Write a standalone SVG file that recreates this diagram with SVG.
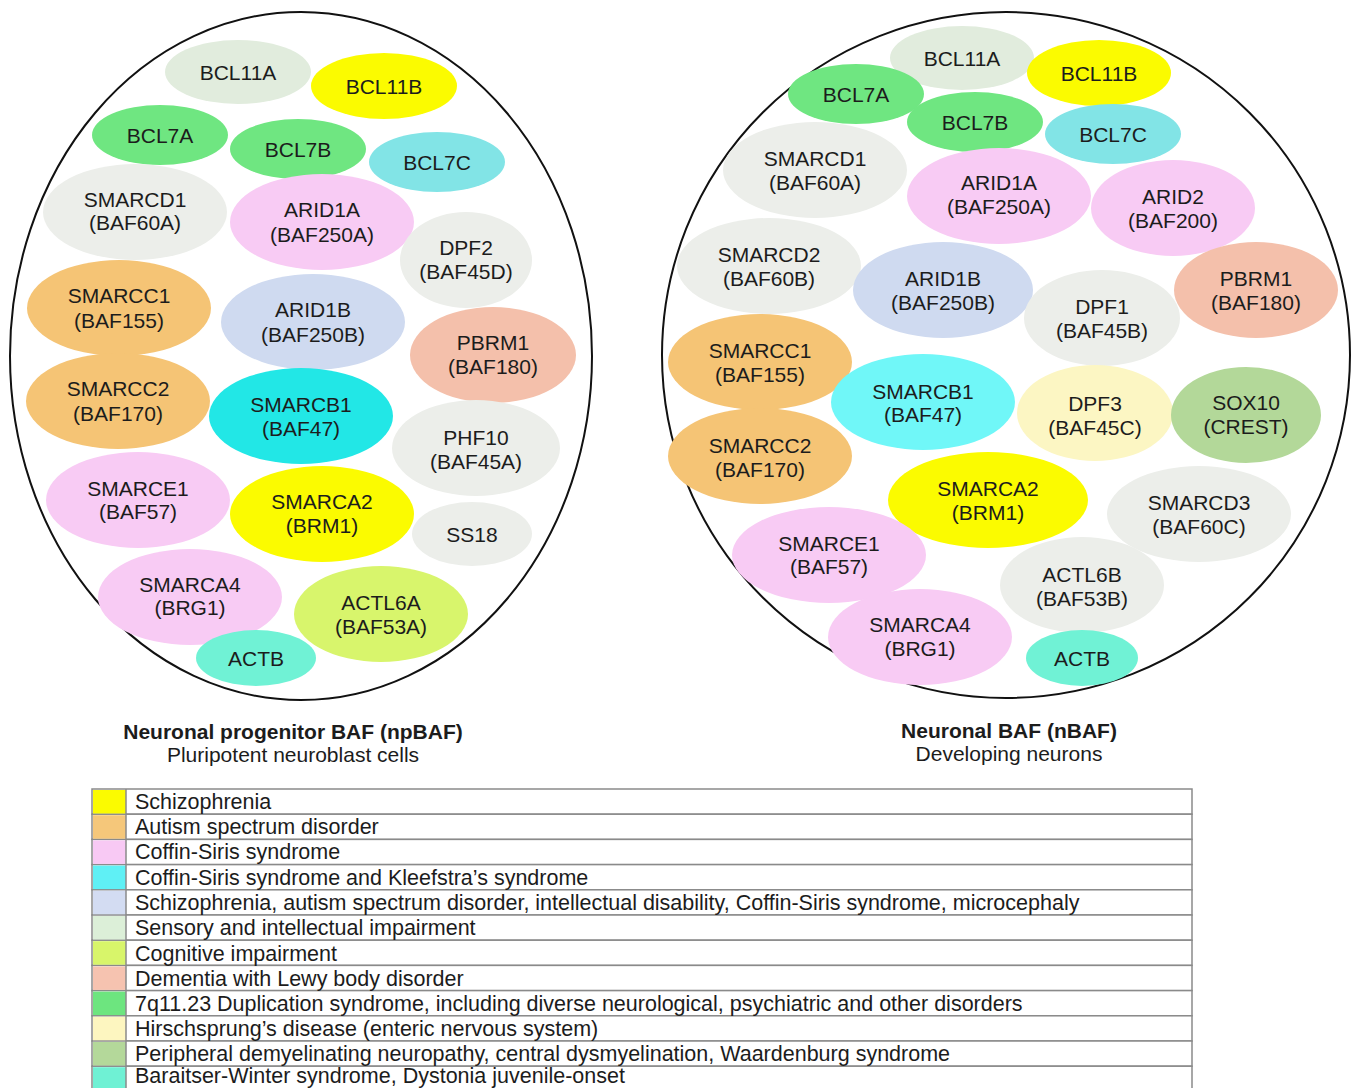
<svg xmlns="http://www.w3.org/2000/svg" width="1354" height="1088" viewBox="0 0 1354 1088">
<style>
text{font-family:"Liberation Sans",Arial,sans-serif;fill:#1c1c1c}
.n text{font-size:21px;text-anchor:middle}
.outer{fill:none;stroke:#111;stroke-width:2}
.gray{fill:#eceeea}.mint{fill:#e1ecdd}.yel{fill:#fbfb00}.grn{fill:#6fe681}.cyl{fill:#82e4e6}
.pink{fill:#f8cbf4}.lav{fill:#cfdaf0}.org{fill:#f5c475}.sal{fill:#f4c0ab}.cyan{fill:#22e7e6}.cyan2{fill:#70f7f8}
.yg{fill:#d8f56c}.aqua{fill:#70f2d5}.pyel{fill:#fcf6c3}.sage{fill:#b3d899}
.cap{font-size:21px;text-anchor:middle}
.b{font-weight:bold}
.lg text{font-size:21.5px}
.row{fill:#fff;stroke:#8a8a8a;stroke-width:1.5}
</style>

<g id="connectors"></g>

<ellipse class="outer" cx="301" cy="356" rx="291" ry="344"/>
<ellipse class="outer" cx="1006" cy="355" rx="344" ry="343"/>

<!-- Left: npBAF -->
<g id="np-BCL11A" class="n"><ellipse class="mint" cx="238" cy="72" rx="73" ry="32"/><text x="238" y="80">BCL11A</text></g>
<g id="np-BCL11B" class="n"><ellipse class="yel" cx="384" cy="86" rx="73" ry="33"/><text x="384" y="94">BCL11B</text></g>
<g id="np-BCL7A" class="n"><ellipse class="grn" cx="160" cy="135" rx="68" ry="30"/><text x="160" y="143">BCL7A</text></g>
<g id="np-BCL7B" class="n"><ellipse class="grn" cx="298" cy="149" rx="68" ry="30"/><text x="298" y="157">BCL7B</text></g>
<g id="np-BCL7C" class="n"><ellipse class="cyl" cx="437" cy="162" rx="68" ry="30"/><text x="437" y="170">BCL7C</text></g>
<g id="np-SMARCD1" class="n"><ellipse class="gray" cx="135" cy="212" rx="92" ry="48"/><text x="135" y="207">SMARCD1</text><text x="135" y="230">(BAF60A)</text></g>
<g id="np-ARID1A" class="n"><ellipse class="pink" cx="322" cy="222" rx="92" ry="48"/><text x="322" y="217">ARID1A</text><text x="322" y="242">(BAF250A)</text></g>
<g id="np-DPF2" class="n"><ellipse class="gray" cx="466" cy="260" rx="66" ry="48"/><text x="466" y="255">DPF2</text><text x="466" y="279">(BAF45D)</text></g>
<g id="np-SMARCC1" class="n"><ellipse class="org" cx="119" cy="308" rx="92" ry="48"/><text x="119" y="303">SMARCC1</text><text x="119" y="328">(BAF155)</text></g>
<g id="np-ARID1B" class="n"><ellipse class="lav" cx="313" cy="322" rx="92" ry="48"/><text x="313" y="317">ARID1B</text><text x="313" y="342">(BAF250B)</text></g>
<g id="np-PBRM1" class="n"><ellipse class="sal" cx="493" cy="355" rx="83" ry="48"/><text x="493" y="350">PBRM1</text><text x="493" y="374">(BAF180)</text></g>
<g id="np-SMARCC2" class="n"><ellipse class="org" cx="118" cy="401" rx="92" ry="48"/><text x="118" y="396">SMARCC2</text><text x="118" y="421">(BAF170)</text></g>
<g id="np-SMARCB1" class="n"><ellipse class="cyan" cx="301" cy="416" rx="92" ry="48"/><text x="301" y="412">SMARCB1</text><text x="301" y="436">(BAF47)</text></g>
<g id="np-PHF10" class="n"><ellipse class="gray" cx="476" cy="448" rx="84" ry="48"/><text x="476" y="445">PHF10</text><text x="476" y="469">(BAF45A)</text></g>
<g id="np-SMARCE1" class="n"><ellipse class="pink" cx="138" cy="500" rx="92" ry="48"/><text x="138" y="496">SMARCE1</text><text x="138" y="519">(BAF57)</text></g>
<g id="np-SMARCA2" class="n"><ellipse class="yel" cx="322" cy="514" rx="92" ry="48"/><text x="322" y="509">SMARCA2</text><text x="322" y="533">(BRM1)</text></g>
<g id="np-SS18" class="n"><ellipse class="gray" cx="472" cy="534" rx="60" ry="32"/><text x="472" y="542">SS18</text></g>
<g id="np-SMARCA4" class="n"><ellipse class="pink" cx="190" cy="597" rx="92" ry="48"/><text x="190" y="592">SMARCA4</text><text x="190" y="615">(BRG1)</text></g>
<g id="np-ACTL6A" class="n"><ellipse class="yg" cx="381" cy="614" rx="87" ry="48"/><text x="381" y="610">ACTL6A</text><text x="381" y="634">(BAF53A)</text></g>
<g id="np-ACTB" class="n"><ellipse class="aqua" cx="256" cy="658" rx="60" ry="28"/><text x="256" y="666">ACTB</text></g>

<!-- Right: nBAF -->
<g id="n-BCL11A" class="n"><ellipse class="mint" cx="962" cy="58" rx="72" ry="32"/><text x="962" y="66">BCL11A</text></g>
<g id="n-BCL11B" class="n"><ellipse class="yel" cx="1099" cy="73" rx="72" ry="33"/><text x="1099" y="81">BCL11B</text></g>
<g id="n-BCL7A" class="n"><ellipse class="grn" cx="856" cy="94" rx="68" ry="30"/><text x="856" y="102">BCL7A</text></g>
<g id="n-BCL7B" class="n"><ellipse class="grn" cx="975" cy="122" rx="68" ry="30"/><text x="975" y="130">BCL7B</text></g>
<g id="n-BCL7C" class="n"><ellipse class="cyl" cx="1113" cy="134" rx="68" ry="30"/><text x="1113" y="142">BCL7C</text></g>
<g id="n-SMARCD1" class="n"><ellipse class="gray" cx="815" cy="170" rx="92" ry="48"/><text x="815" y="166">SMARCD1</text><text x="815" y="190">(BAF60A)</text></g>
<g id="n-ARID1A" class="n"><ellipse class="pink" cx="999" cy="196" rx="92" ry="48"/><text x="999" y="190">ARID1A</text><text x="999" y="214">(BAF250A)</text></g>
<g id="n-ARID2" class="n"><ellipse class="pink" cx="1173" cy="208" rx="82" ry="48"/><text x="1173" y="204">ARID2</text><text x="1173" y="228">(BAF200)</text></g>
<g id="n-SMARCD2" class="n"><ellipse class="gray" cx="769" cy="266" rx="92" ry="48"/><text x="769" y="262">SMARCD2</text><text x="769" y="286">(BAF60B)</text></g>
<g id="n-ARID1B" class="n"><ellipse class="lav" cx="943" cy="290" rx="90" ry="48"/><text x="943" y="286">ARID1B</text><text x="943" y="310">(BAF250B)</text></g>
<g id="n-PBRM1" class="n"><ellipse class="sal" cx="1256" cy="290" rx="82" ry="48"/><text x="1256" y="286">PBRM1</text><text x="1256" y="310">(BAF180)</text></g>
<g id="n-DPF1" class="n"><ellipse class="gray" cx="1102" cy="318" rx="78" ry="48"/><text x="1102" y="314">DPF1</text><text x="1102" y="338">(BAF45B)</text></g>
<g id="n-SMARCC1" class="n"><ellipse class="org" cx="760" cy="362" rx="92" ry="48"/><text x="760" y="358">SMARCC1</text><text x="760" y="382">(BAF155)</text></g>
<g id="n-SMARCB1" class="n"><ellipse class="cyan2" cx="923" cy="402" rx="92" ry="48"/><text x="923" y="399">SMARCB1</text><text x="923" y="422">(BAF47)</text></g>
<g id="n-DPF3" class="n"><ellipse class="pyel" cx="1095" cy="413" rx="78" ry="48"/><text x="1095" y="411">DPF3</text><text x="1095" y="435">(BAF45C)</text></g>
<g id="n-SOX10" class="n"><ellipse class="sage" cx="1246" cy="415" rx="75" ry="48"/><text x="1246" y="410">SOX10</text><text x="1246" y="434">(CREST)</text></g>
<g id="n-SMARCC2" class="n"><ellipse class="org" cx="760" cy="456" rx="92" ry="48"/><text x="760" y="453">SMARCC2</text><text x="760" y="477">(BAF170)</text></g>
<g id="n-SMARCA2" class="n"><ellipse class="yel" cx="988" cy="500" rx="100" ry="48"/><text x="988" y="496">SMARCA2</text><text x="988" y="520">(BRM1)</text></g>
<g id="n-SMARCD3" class="n"><ellipse class="gray" cx="1199" cy="514" rx="92" ry="48"/><text x="1199" y="510">SMARCD3</text><text x="1199" y="534">(BAF60C)</text></g>
<g id="n-SMARCE1" class="n"><ellipse class="pink" cx="829" cy="555" rx="97" ry="48"/><text x="829" y="551">SMARCE1</text><text x="829" y="574">(BAF57)</text></g>
<g id="n-ACTL6B" class="n"><ellipse class="gray" cx="1082" cy="585" rx="82" ry="48"/><text x="1082" y="582">ACTL6B</text><text x="1082" y="606">(BAF53B)</text></g>
<g id="n-SMARCA4" class="n"><ellipse class="pink" cx="920" cy="637" rx="92" ry="48"/><text x="920" y="632">SMARCA4</text><text x="920" y="656">(BRG1)</text></g>
<g id="n-ACTB" class="n"><ellipse class="aqua" cx="1082" cy="658" rx="56" ry="28"/><text x="1082" y="666">ACTB</text></g>

<!-- Captions -->
<g id="cap-left"><text class="cap b" x="293" y="739">Neuronal progenitor BAF (npBAF)</text><text class="cap" x="293" y="762">Pluripotent neuroblast cells</text></g>
<g id="cap-right"><text class="cap b" x="1009" y="738">Neuronal BAF (nBAF)</text><text class="cap" x="1009" y="761">Developing neurons</text></g>

<!-- Legend -->
<g id="legend" class="lg">
<rect class="row" x="92" y="789" width="1100" height="25.2"/>
<rect class="row" x="92" y="814.2" width="1100" height="25.2"/>
<rect class="row" x="92" y="839.4" width="1100" height="25.2"/>
<rect class="row" x="92" y="864.6" width="1100" height="25.2"/>
<rect class="row" x="92" y="889.8" width="1100" height="25.2"/>
<rect class="row" x="92" y="915" width="1100" height="25.2"/>
<rect class="row" x="92" y="940.2" width="1100" height="25.2"/>
<rect class="row" x="92" y="965.4" width="1100" height="25.2"/>
<rect class="row" x="92" y="990.6" width="1100" height="25.2"/>
<rect class="row" x="92" y="1015.8" width="1100" height="25.2"/>
<rect class="row" x="92" y="1041" width="1100" height="25.2"/>
<rect class="row" x="92" y="1066.2" width="1100" height="25.2"/>
<rect x="93" y="790" width="33" height="23.5" fill="#fbfb00"/>
<rect x="93" y="815.2" width="33" height="23.5" fill="#f5c77a"/>
<rect x="93" y="840.4" width="33" height="23.5" fill="#f8c9f4"/>
<rect x="93" y="865.6" width="33" height="23.5" fill="#5ff0f5"/>
<rect x="93" y="890.8" width="33" height="23.5" fill="#d3dcf2"/>
<rect x="93" y="916" width="33" height="23.5" fill="#dcefd8"/>
<rect x="93" y="941.2" width="33" height="23.5" fill="#d8f56a"/>
<rect x="93" y="966.4" width="33" height="23.5" fill="#f6c3b0"/>
<rect x="93" y="991.6" width="33" height="23.5" fill="#6de57f"/>
<rect x="93" y="1016.8" width="33" height="23.5" fill="#fdf6c0"/>
<rect x="93" y="1042" width="33" height="23.5" fill="#b4d89a"/>
<rect x="93" y="1067.2" width="33" height="23.5" fill="#6ff1d4"/>
<line x1="126" y1="789" x2="126" y2="1092" stroke="#8a8a8a" stroke-width="1.5"/>
<text x="135" y="809">Schizophrenia</text>
<text x="135" y="834">Autism spectrum disorder</text>
<text x="135" y="859">Coffin-Siris syndrome</text>
<text x="135" y="885">Coffin-Siris syndrome and Kleefstra’s syndrome</text>
<text x="135" y="910">Schizophrenia, autism spectrum disorder, intellectual disability, Coffin-Siris syndrome, microcephaly</text>
<text x="135" y="935">Sensory and intellectual impairment</text>
<text x="135" y="961">Cognitive impairment</text>
<text x="135" y="986">Dementia with Lewy body disorder</text>
<text x="135" y="1011">7q11.23 Duplication syndrome, including diverse neurological, psychiatric and other disorders</text>
<text x="135" y="1036">Hirschsprung’s disease (enteric nervous system)</text>
<text x="135" y="1061">Peripheral demyelinating neuropathy, central dysmyelination, Waardenburg syndrome</text>
<text x="135" y="1082.5">Baraitser-Winter syndrome, Dystonia juvenile-onset</text>
</g>
</svg>
